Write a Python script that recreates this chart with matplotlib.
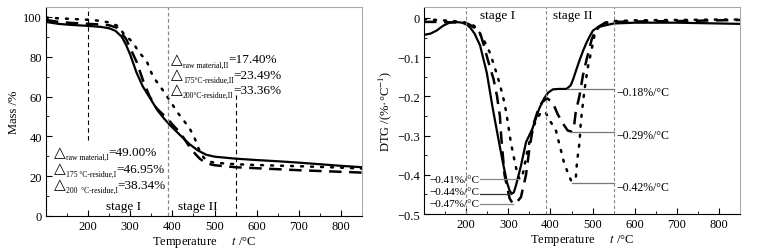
import matplotlib
matplotlib.use("Agg")
import matplotlib.pyplot as plt
from matplotlib.ticker import MultipleLocator, FuncFormatter

plt.rcParams['font.family'] = ['Liberation Serif', 'DejaVu Serif']
plt.rcParams['mathtext.fontset'] = 'stix'
plt.rcParams['font.size'] = 9

# TG curves (mass %)
t_raw = [100, 130, 160, 200, 230, 250, 265, 280, 290, 300, 315, 330, 347, 365, 380, 394, 418, 440,
         460, 480, 500, 525, 550, 600, 650, 700, 750, 800, 850]
m_raw = [97.5, 96.5, 96, 95.5, 95, 94.3, 93, 90, 86, 81, 72, 65, 59.2, 53, 49, 45.7, 40.7, 36.2,
         33, 30.8, 29.8, 29.3, 28.8, 28.1, 27.5, 26.8, 26, 25.2, 24.5]

t_175 = [100, 130, 160, 200, 230, 250, 270, 290, 305, 315, 331, 345, 362, 380, 390, 402, 418, 440,
         455, 465, 480, 500, 550, 600, 700, 800, 850]
m_175 = [98.5, 97.5, 97, 96.5, 96.2, 95.8, 94.5, 89, 82, 77.5, 67.7, 60.5, 54.2, 50.5, 48.5, 45.5, 42, 35,
         31, 28.8, 26.5, 25.5, 24.5, 24, 23, 22.2, 21.8]

t_200 = [100, 130, 160, 200, 230, 250, 270, 283, 295, 307, 320, 339, 352, 362, 378, 390, 400, 414,
         425, 441, 453, 462, 470, 478, 485, 495, 510, 550, 600, 700, 800, 850]
m_200 = [99.7, 99.3, 99, 98.6, 98, 97.2, 95.5, 92, 89.5, 87, 82.5, 77.8, 71, 67.7, 63, 59.2, 56, 51.5,
         48.5, 44, 39, 34, 30.5, 28.5, 27.5, 27, 26.6, 26, 25.6, 25, 24.3, 23.8]

# DTG curves (%/°C)
dt_raw = [100, 115, 130, 145, 160, 175, 190, 200, 210, 220, 233, 249, 263, 275, 287, 297, 303, 308,
          313, 318, 330, 342, 357, 373, 385, 395, 406, 420, 438, 448, 454, 462, 470, 478, 486, 494,
          501, 512, 525, 550, 600, 650, 700, 750, 800, 850]
d_raw = [-0.043, -0.04, -0.032, -0.02, -0.012, -0.01, -0.012, -0.016, -0.025, -0.04, -0.07, -0.14,
         -0.23, -0.3, -0.368, -0.42, -0.44, -0.448, -0.445, -0.428, -0.377, -0.317, -0.283, -0.232,
         -0.205, -0.19, -0.182, -0.181, -0.181, -0.172, -0.156, -0.13, -0.105, -0.082, -0.062, -0.045,
         -0.032, -0.024, -0.02, -0.014, -0.012, -0.012, -0.012, -0.013, -0.014, -0.015]

dt_175 = [100, 130, 160, 190, 205, 220, 235, 241, 253, 265, 273, 280, 283, 291, 303, 311, 320, 330,
          342, 350, 360, 369, 380, 392, 405, 417, 430, 441, 450, 455, 460, 469, 477, 486, 498, 510,
          530, 550, 600, 700, 800, 850]
d_175 = [-0.01, -0.01, -0.011, -0.012, -0.015, -0.025, -0.045, -0.066, -0.113, -0.156, -0.198, -0.25,
         -0.30, -0.40, -0.46, -0.474, -0.47, -0.457, -0.40, -0.334, -0.27, -0.24, -0.215, -0.205,
         -0.215, -0.245, -0.27, -0.287, -0.29, -0.285, -0.24, -0.198, -0.147, -0.105, -0.054, -0.025,
         -0.012, -0.01, -0.009, -0.008, -0.006, -0.005]

dt_200 = [100, 130, 160, 190, 210, 225, 236, 246, 256, 266, 275, 287, 295, 306, 314, 322, 327, 335,
          345, 355, 365, 378, 388, 401, 413, 420, 432, 441, 449, 455, 460, 463, 469, 472, 480, 488,
          498, 506, 520, 550, 600, 700, 800, 850]
d_200 = [-0.003, -0.005, -0.007, -0.01, -0.014, -0.025, -0.045, -0.065, -0.088, -0.12, -0.151, -0.198,
         -0.24, -0.317, -0.36, -0.40, -0.412, -0.395, -0.34, -0.295, -0.262, -0.24, -0.24, -0.266,
         -0.287, -0.317, -0.368, -0.394, -0.415, -0.415, -0.41, -0.368, -0.317, -0.266, -0.19, -0.13,
         -0.079, -0.037, -0.015, -0.008, -0.006, -0.005, -0.004, -0.004]

stage_bounds = [200, 390, 550]

# mass loss of each stage: (subscript, value)
loss_II = [('raw material,II', '=17.40%'), ('175°C-residue,II', '=23.49%'), ('200°C-residue,II', '=33.36%')]
loss_I = [('raw material,I', '=49.00%'), ('175 °C-residue,I', '=46.95%'), ('200  °C-residue,I', '=38.34%')]

# peak rates: (label, label y, line y, x where the marker line ends, line colour)
peaks_left = [('−0.41%/°C', -0.413, -0.41, 325, '#888888'),
              ('−0.44%/°C', -0.443, -0.449, 307, '#333333'),
              ('−0.47%/°C', -0.474, -0.474, 312, '#888888')]
peaks_right = [('−0.18%/°C', -0.181, 440), ('−0.29%/°C', -0.29, 446), ('−0.42%/°C', -0.422, 452)]


def delta_label(ax, x, y, sub, val):
    t1 = ax.text(x, y, '△', fontsize=11, va='center', ha='left', family='DejaVu Sans')
    t2 = ax.annotate(sub, xy=(1, 0.12), xycoords=t1, fontsize=5.5, va='center', ha='left')
    ax.annotate(val, xy=(1, 0.45), xycoords=(t2, t1), fontsize=9.5, va='center', ha='left')


fig = plt.figure(figsize=(7.61, 2.51), dpi=100)
ax1 = fig.add_axes([0.0604, 0.1355, 0.4153, 0.8327])
ax2 = fig.add_axes([0.5572, 0.1434, 0.4153, 0.8247])

solid = dict(color='black', lw=1.6, ls='-')
dash = dict(color='black', lw=1.8, ls=(0, (5, 3)))
dot = dict(color='black', lw=1.8, ls=(0, (0.8, 3.2)), dash_capstyle='round')

# --- TG ---
ax1.plot(t_raw, m_raw, **solid)
ax1.plot(t_175, m_175, **dash)
ax1.plot(t_200, m_200, **dot)
ax1.plot([200, 200], [38, 105], color='black', lw=0.8, ls=(0, (4, 3)))
ax1.axvline(390, color='#888888', lw=0.9, ls=(0, (3, 2)))
ax1.plot([550, 550], [0, 61], color='black', lw=0.8, ls=(0, (4, 3)))
ax1.set_xlim(100, 850)
ax1.set_ylim(0, 105)
ax1.xaxis.set_minor_locator(MultipleLocator(50))
ax1.yaxis.set_major_locator(MultipleLocator(20))
ax1.yaxis.set_minor_locator(MultipleLocator(10))
ax1.set_xticks([200, 300, 400, 500, 600, 700, 800])
ax1.set_ylabel('Mass /%', fontsize=9, labelpad=2)
for i, (sub, val) in enumerate(loss_II):
    delta_label(ax1, 397, 79 - 7.6 * i, sub, val)
for i, (sub, val) in enumerate(loss_I):
    delta_label(ax1, 119, 32.4 - 8.2 * i, sub, val)
ax1.text(283, 5, 'stage I', fontsize=9.5, ha='center', va='center')
ax1.text(460, 5, 'stage II', fontsize=9.5, ha='center', va='center')

# --- DTG ---
ax2.plot(dt_raw, d_raw, **solid)
ax2.plot(dt_175, d_175, **dash)
ax2.plot(dt_200, d_200, **dot)
for b in stage_bounds:
    ax2.axvline(b, color='#888888', lw=0.8, ls=(0, (3, 2)))
ax2.set_xlim(100, 850)
ax2.set_ylim(-0.5, 0.028)
ax2.xaxis.set_minor_locator(MultipleLocator(50))
ax2.set_xticks([200, 300, 400, 500, 600, 700, 800])
ax2.yaxis.set_major_locator(MultipleLocator(0.1))
ax2.yaxis.set_minor_locator(MultipleLocator(0.05))
ax2.yaxis.set_major_formatter(FuncFormatter(
    lambda v, p: '0' if abs(v) < 1e-9 else ('%.1f' % v).replace('-', '−')))
ax2.set_ylabel('DTG /(%·°C$^{-1}$)', fontsize=9, labelpad=2)
ax2.text(275, 0.008, 'stage I', fontsize=9.5, ha='center', va='center')
ax2.text(453, 0.008, 'stage II', fontsize=9.5, ha='center', va='center')
for lab, ty, ly, xe, c in peaks_left:
    ax2.plot([232, xe], [ly, ly], color=c, lw=0.9)
    ax2.text(112, ty, lab, fontsize=8, ha='left', va='center')
for lab, v, xs in peaks_right:
    ax2.plot([xs, 552], [v, v], color='#777777', lw=0.9)
    ax2.text(557, v - 0.008, lab, fontsize=8.5, ha='left', va='center')

for ax in (ax1, ax2):
    ax.tick_params(which='both', direction='in', top=False, right=False, labelsize=9, pad=3)
    ax.tick_params(which='major', length=4)
    ax.tick_params(which='minor', length=2)
    for sp in ('top', 'right'):
        ax.spines[sp].set_color('#aaaaaa')
    ax.set_xlabel('Temperature     $\\it{t}$ /°C', fontsize=9, labelpad=1)

fig.savefig('out.png', dpi=100)
